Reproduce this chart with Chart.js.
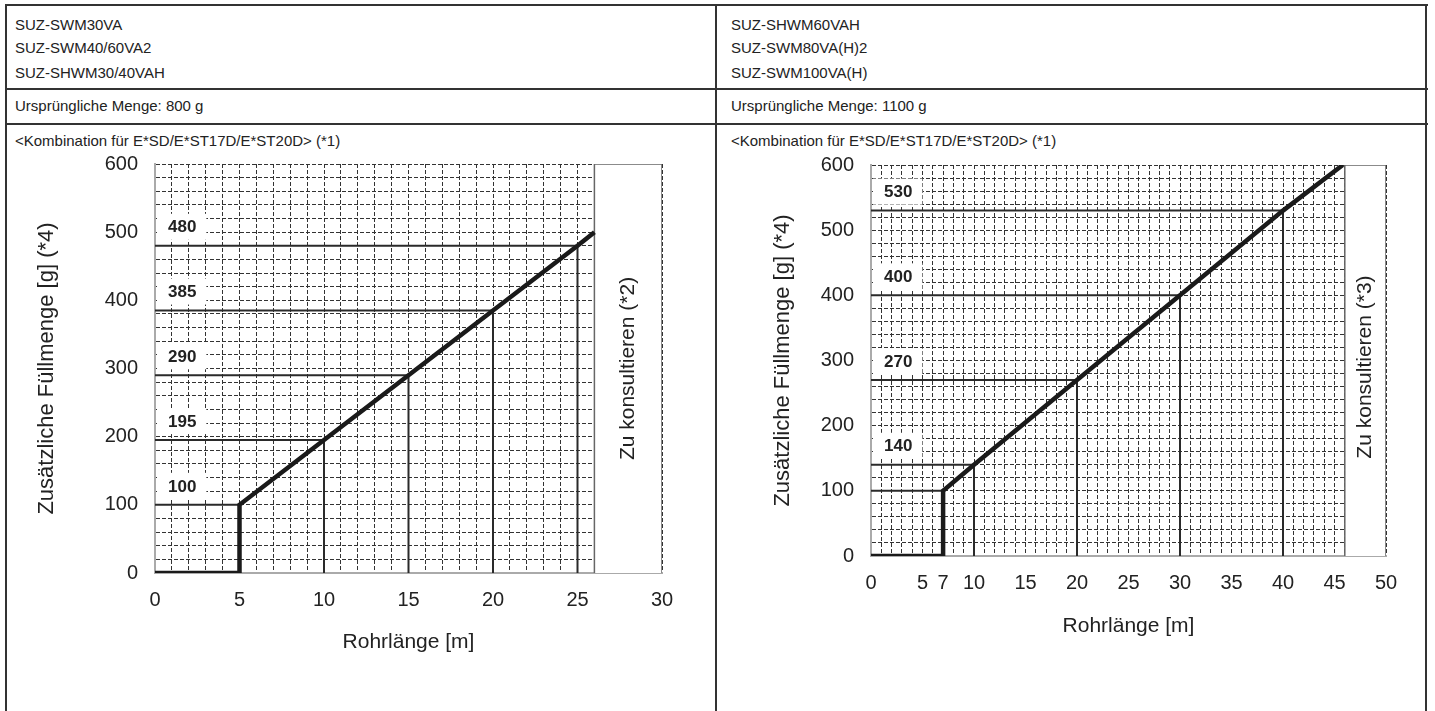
<!DOCTYPE html>
<html>
<head>
<meta charset="utf-8">
<script src="https://cdn.jsdelivr.net/npm/chart.js@4.4.0/dist/chart.umd.min.js"></script>
<style>
body { margin: 0; width: 1435px; height: 711px; background: #fff; position: relative; overflow: hidden;
       font-family: "Liberation Sans", Arial, sans-serif; color: #222; }
.hl { position: absolute; height: 2px; background: #333; }
.vl { position: absolute; width: 2px; background: #333; }
.t { position: absolute; font-size: 15px; line-height: 16px; white-space: nowrap; }
canvas { position: absolute; }
</style>
</head>
<body>
<div class="hl" style="left:5px;top:4px;width:1423px"></div>
<div class="hl" style="left:5px;top:88px;width:1423px"></div>
<div class="hl" style="left:5px;top:123px;width:1423px"></div>
<div class="vl" style="left:5px;top:4px;height:707px"></div>
<div class="vl" style="left:715px;top:4px;height:707px"></div>
<div class="vl" style="left:1425px;top:4px;height:707px"></div>

<div class="t" style="left:15px;top:17px">SUZ-SWM30VA</div>
<div class="t" style="left:15px;top:40px">SUZ-SWM40/60VA2</div>
<div class="t" style="left:15px;top:65px">SUZ-SHWM30/40VAH</div>
<div class="t" style="left:15px;top:98px">Ursprüngliche Menge: 800 g</div>
<div class="t" style="left:15px;top:133px">&lt;Kombination für E*SD/E*ST17D/E*ST20D&gt; (*1)</div>

<div class="t" style="left:731px;top:17px">SUZ-SHWM60VAH</div>
<div class="t" style="left:731px;top:40px">SUZ-SWM80VA(H)2</div>
<div class="t" style="left:731px;top:65px">SUZ-SWM100VA(H)</div>
<div class="t" style="left:731px;top:98px">Ursprüngliche Menge: 1100 g</div>
<div class="t" style="left:731px;top:133px">&lt;Kombination für E*SD/E*ST17D/E*ST20D&gt; (*1)</div>

<canvas id="left" width="700" height="560" style="left:10px;top:148px"></canvas>
<canvas id="right" width="700" height="560" style="left:720px;top:148px"></canvas>

<script>
// left chart: SUZ-SWM30VA ...
const leftLength = [0, 5, 5, 10, 15, 20, 25, 26];
const leftCharge = [0, 0, 100, 195, 290, 385, 480, 500];
const leftMarkLength = [5, 10, 15, 20, 25];
const leftMarkCharge = [100, 195, 290, 385, 480];
const leftLabels = [100, 195, 290, 385, 480];
const leftXTicks = [0, 5, 10, 15, 20, 25, 30];
const leftLimit = 26, leftXMax = 30;
const leftNote = "Zu konsultieren (*2)";

// right chart: SUZ-SHWM60VAH ...
const rightLength = [0, 7, 7, 10, 20, 30, 40, 45.8];
const rightCharge = [0, 0, 100, 140, 270, 400, 530, 600];
const rightMarkLength = [7, 10, 20, 30, 40];
const rightMarkCharge = [100, 140, 270, 400, 530];
const rightLabels = [140, 270, 400, 530];
const rightXTicks = [0, 5, 7, 10, 15, 20, 25, 30, 35, 40, 45, 50];
const rightLimit = 46, rightXMax = 50;
const rightNote = "Zu konsultieren (*3)";

const yTicks = [0, 100, 200, 300, 400, 500, 600];
const yMax = 600;

const FONT = '"Liberation Sans", Arial, sans-serif';

const annotate = {
    id: "annotate",
    beforeDatasetsDraw(chart, args, opts) {
        const { ctx, scales: { x, y } } = chart;
        ctx.save();
        ctx.font = "bold 17px " + FONT;
        ctx.fillStyle = "#fff";
        opts.labels.forEach(v => {
            const x0 = x.getPixelForValue(0);
            const py = y.getPixelForValue(v) - 18;
            const w = ctx.measureText(String(v)).width;
            ctx.fillRect(x0 + 2, py - 14, 13 + w + 8, 26);
        });
        ctx.restore();
    },
    afterDatasetsDraw(chart, args, opts) {
        const { ctx, scales: { x, y } } = chart;
        ctx.save();
        ctx.font = "bold 17px " + FONT;
        ctx.fillStyle = "#222";
        ctx.textAlign = "left";
        ctx.textBaseline = "middle";
        opts.labels.forEach(v => {
            ctx.fillText(String(v), x.getPixelForValue(0) + 13, y.getPixelForValue(v) - 18);
        });
        // note inside the box
        const cx = (x.getPixelForValue(opts.limit) + x.getPixelForValue(opts.xMax)) / 2;
        const cy = y.getPixelForValue(opts.noteY);
        ctx.translate(cx, cy);
        ctx.rotate(-Math.PI / 2);
        ctx.font = "21px " + FONT;
        ctx.textAlign = "center";
        ctx.fillText(opts.note, 0, 0);
        ctx.restore();
    }
};

function makeChart(id, cfg) {
    const datasets = [];
    datasets.push({
        data: cfg.length.map((v, i) => ({ x: v, y: cfg.charge[i] })),
        borderColor: "#1a1a1a",
        borderWidth: 4.5,
        borderJoinStyle: "miter",
        pointRadius: 0,
        tension: 0
    });
    cfg.markLength.forEach((len, i) => {
        const c = cfg.markCharge[i];
        datasets.push({
            data: [{ x: 0, y: c }, { x: len, y: c }, { x: len, y: 0 }],
            borderColor: "#2a2a2a",
            borderWidth: 2,
            pointRadius: 0,
            tension: 0
        });
    });
    // "Zu konsultieren" box
    datasets.push({
        data: [{ x: cfg.limit, y: 0 }, { x: cfg.limit, y: yMax }, { x: cfg.xMax, y: yMax }, { x: cfg.xMax, y: 0 }],
        borderColor: "#666",
        borderWidth: 1.5,
        backgroundColor: "#fff",
        fill: "origin",
        pointRadius: 0,
        tension: 0
    });

    return new Chart(document.getElementById(id).getContext("2d"), {
        type: "line",
        data: { datasets },
        plugins: [annotate],
        options: {
            responsive: false,
            animation: false,
            events: [],
            layout: { padding: cfg.padding },
            plugins: {
                legend: { display: false },
                tooltip: { enabled: false },
                annotate: { labels: cfg.labels, limit: cfg.limit, xMax: cfg.xMax, note: cfg.note, noteY: cfg.noteY }
            },
            scales: {
                x: {
                    type: "linear",
                    min: 0,
                    max: cfg.xMax,
                    afterFit(s) { s.height = cfg.xHeight; },
                    ticks: {
                        stepSize: 1,
                        autoSkip: false,
                        maxRotation: 0,
                        padding: 15,
                        color: "#222",
                        font: { family: FONT, size: 20 },
                        callback: v => cfg.xTicks.includes(v) ? String(v) : ""
                    },
                    grid: { color: "#333", lineWidth: 1, drawTicks: false },
                    border: { color: "#aaa", width: 2, dash: [4, 2] },
                    title: {
                        display: true,
                        text: "Rohrlänge [m]",
                        color: "#222",
                        font: { family: FONT, size: 21 },
                        padding: { top: 0, bottom: cfg.xTitlePad }
                    }
                },
                y: {
                    min: 0,
                    max: yMax,
                    afterFit(s) {
                        s.width = cfg.yWidth;
                        s.paddingTop = 0;
                        s.paddingBottom = 0;
                    },
                    ticks: {
                        stepSize: 20,
                        autoSkip: false,
                        padding: 17,
                        color: "#222",
                        font: { family: FONT, size: 20 },
                        callback: v => yTicks.includes(v) ? String(v) : ""
                    },
                    grid: { color: "#333", lineWidth: 1, drawTicks: false },
                    border: { color: "#aaa", width: 2, dash: [4, 2] },
                    title: {
                        display: true,
                        text: "Zusätzliche Füllmenge [g] (*4)",
                        color: "#222",
                        font: { family: FONT, size: 22 },
                        padding: { top: cfg.yTitlePad, bottom: 0 }
                    }
                }
            }
        }
    });
}

makeChart("left", {
    length: leftLength, charge: leftCharge,
    markLength: leftMarkLength, markCharge: leftMarkCharge,
    labels: leftLabels, xTicks: leftXTicks,
    limit: leftLimit, xMax: leftXMax, note: leftNote, noteY: 300,
    padding: { top: 16, right: 48, bottom: 0, left: 0 },
    yWidth: 145, xHeight: 135, yTitlePad: 24, xTitlePad: 53
});

makeChart("right", {
    length: rightLength, charge: rightCharge,
    markLength: rightMarkLength, markCharge: rightMarkCharge,
    labels: rightLabels, xTicks: rightXTicks,
    limit: rightLimit, xMax: rightXMax, note: rightNote, noteY: 290,
    padding: { top: 17, right: 34, bottom: 0, left: 0 },
    yWidth: 151, xHeight: 152, yTitlePad: 50, xTitlePad: 69
});
</script>
</body>
</html>
